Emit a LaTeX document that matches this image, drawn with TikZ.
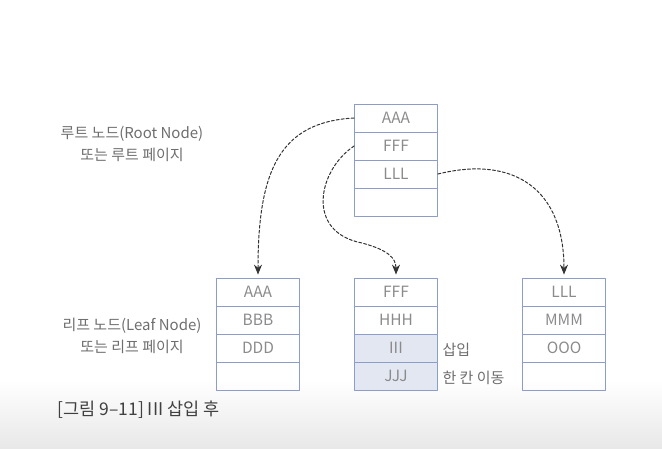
\documentclass[tikz,border=0pt]{standalone}
\usepackage{fontspec}
\newfontfamily\krfont{Noto Sans CJK KR}
\usetikzlibrary{arrows.meta}
\definecolor{boxline}{HTML}{8C9DCB}
\definecolor{cellfill}{HTML}{E3E7F1}
\definecolor{txtgray}{HTML}{6E6E6E}

\begin{document}
\begin{tikzpicture}[x=1pt,y=-1pt,line cap=round,line join=round,
  cell/.style={draw=boxline,line width=0.8pt,minimum width=83pt,minimum height=28pt,
    inner sep=0pt,font=\krfont\fontsize{15.5}{15.5}\selectfont,text=txtgray!80},
  ptr/.style={densely dashed,line width=1pt,draw=black!80,
    -{Stealth[length=10pt,width=8pt]},shorten >=3pt},
  note/.style={font=\krfont\fontsize{15}{22}\selectfont,text=txtgray,align=center}]
  \useasboundingbox (0,0) rectangle (662,448);
  \shade[top color=white,bottom color=black!9] (0,380) rectangle (662,448);

  % root page
  \foreach \t [count=\i] in {AAA,FFF,LLL,{}} {
    \node[cell] (root\i) at (396,{90+28*\i}) {\t};
  }
  % leaf pages
  \foreach \t [count=\i] in {AAA,BBB,DDD,{}} {
    \node[cell] (leafa\i) at (258,{264+28*\i}) {\t};
  }
  \foreach \t [count=\i] in {FFF,HHH,III,JJJ} {
    \ifnum\i>2
      \node[cell,fill=cellfill] (leafb\i) at (396,{264+28*\i}) {\t};
    \else
      \node[cell] (leafb\i) at (396,{264+28*\i}) {\t};
    \fi
  }
  \foreach \t [count=\i] in {LLL,MMM,OOO,{}} {
    \node[cell] (leafc\i) at (564,{264+28*\i}) {\t};
  }

  % pointers
  \draw[ptr] (root1.west) .. controls (280,122) and (258,170) .. (leafa1.north);
  \coordinate (bend) at (362,243);
  \draw[ptr] (root2.west) .. controls (318,170) and (305,232) .. (bend)
    .. controls (388,250) and (396,258) .. (leafb1.north);
  \draw[ptr] (root3.east) .. controls (515,155) and (564,190) .. (leafc1.north);

  % notes
  \node[note,anchor=west] (ins) at (439,350) {삽입};
  \node[note,anchor=west] (shift) at (439,378) {한 칸 이동};
  \node[note] (rootnote) at (132,144) {루트 노드(Root Node)\\또는 루트 페이지};
  \node[note] (leafnote) at (132,336) {리프 노드(Leaf Node)\\또는 리프 페이지};
  \node[anchor=west,font=\krfont\fontsize{17.5}{17.5}\selectfont,text=black!75] (caption)
    at (54,410) {[그림 9–11] III 삽입 후};
\end{tikzpicture}
\end{document}
